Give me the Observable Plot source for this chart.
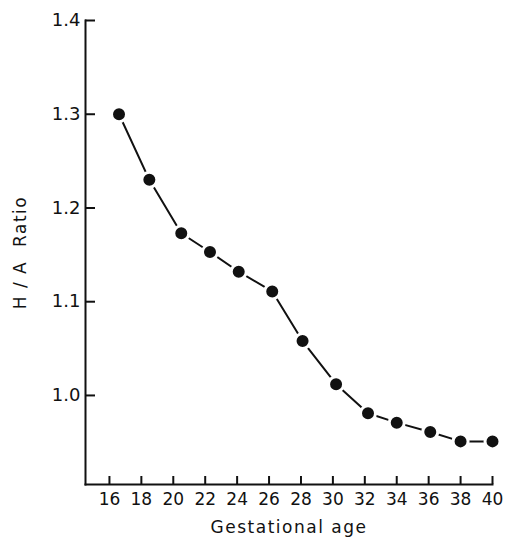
<!DOCTYPE html>
<html>
<head>
<meta charset="utf-8">
<script src="https://cdn.jsdelivr.net/npm/d3@7"></script>
<script src="https://cdn.jsdelivr.net/npm/@observablehq/plot@0.6"></script>
<style>
  html, body { margin: 0; padding: 0; background: #fff; }
  #chart svg { display: block; }
</style>
</head>
<body>
<div id="chart"></div>
<script>
const gestationalAge = [16.6, 18.5, 20.5, 22.3, 24.1, 26.2, 28.1, 30.2, 32.2, 34.0, 36.1, 38.0, 40.0];
const haRatio = [1.300, 1.230, 1.173, 1.153, 1.132, 1.111, 1.058, 1.012, 0.981, 0.971, 0.961, 0.951, 0.951];
const xTicks = [16, 18, 20, 22, 24, 26, 28, 30, 32, 34, 36, 38, 40];
const yTicks = [1.0, 1.1, 1.2, 1.3, 1.4];
const yTickLabels = ["1.0", "1.1", "1.2", "1.3", "1.4"];
const xDomain = [14.5, 40];
const yDomain = [0.905, 1.4];
const xTitle = "Gestational age";
const yTitle = "H / A  Ratio";

const data = gestationalAge.map((x, i) => ({x, y: haRatio[i]}));
const font = "'DejaVu Sans', sans-serif";

const chart = Plot.plot({
  width: 506,
  height: 539,
  marginLeft: 85,
  marginRight: 14,
  marginTop: 20,
  marginBottom: 55,
  style: {fontFamily: font, fontSize: "17px", color: "#111", background: "#fff"},
  x: {domain: xDomain},
  y: {domain: yDomain},
  marks: [
    Plot.frame({anchor: "left", stroke: "#111", strokeWidth: 2}),
    Plot.frame({anchor: "bottom", stroke: "#111", strokeWidth: 2}),
    Plot.axisY(yTicks, {tickSize: 10, dx: 10, text: null, strokeWidth: 2, label: null}),
    Plot.axisY(yTicks, {tickSize: 0, tickPadding: 5, tickFormat: (d, i) => yTickLabels[i], fontSize: 18, label: null}),
    Plot.axisX(xTicks, {tickSize: 8, dy: -8, text: null, strokeWidth: 2, label: null}),
    Plot.axisX(xTicks, {tickSize: 0, tickPadding: 8, fontSize: 17, label: null}),
    Plot.text([xTitle], {frameAnchor: "bottom", dy: 43, fontSize: 17, lineAnchor: "middle"}),
    Plot.text([yTitle], {frameAnchor: "left", dx: -65, rotate: -90, fontSize: 17, textAnchor: "middle"}),
    Plot.line(data, {x: "x", y: "y", stroke: "#111", strokeWidth: 2}),
    Plot.dot(data, {x: "x", y: "y", r: 7.5, fill: "#111", stroke: "#fff", strokeWidth: 3})
  ]
});
d3.select(chart).selectAll("text").each(function() {
  const t = this.textContent;
  if (t === xTitle) d3.select(this).attr("letter-spacing", "1.5px").style("white-space", "pre");
  if (t === yTitle) d3.select(this).attr("letter-spacing", "1.5px").style("white-space", "pre");
});
document.getElementById("chart").appendChild(chart);
</script>
</body>
</html>
